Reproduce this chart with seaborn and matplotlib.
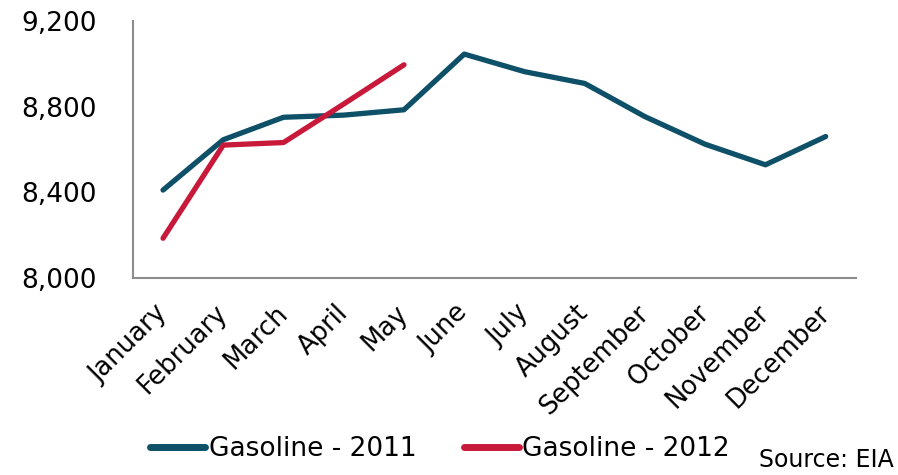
import pandas as pd
import numpy as np
import matplotlib
matplotlib.use("Agg")
import matplotlib.pyplot as plt
import matplotlib.transforms as mtrans
import seaborn as sns

# ---- data ----
months = ["January", "February", "March", "April", "May", "June",
          "July", "August", "September", "October", "November", "December"]
gas_2011 = [8410, 8645, 8750, 8760, 8785, 9045, 8963, 8908, 8753, 8624, 8528, 8660]
gas_2012 = [8185, 8620, 8632, 8812, 8995]
y_ticks = [8000, 8400, 8800, 9200]

BLUE = "#0D5068"
RED = "#C8193A"
GREY = "#8C8C8C"

df = pd.concat([
    pd.DataFrame({"Month": months, "Value": gas_2011, "Series": "Gasoline - 2011"}),
    pd.DataFrame({"Month": months[:len(gas_2012)], "Value": gas_2012, "Series": "Gasoline - 2012"}),
], ignore_index=True)

sns.set_style("white")
plt.rcParams["font.family"] = ["DejaVu Sans"]
plt.rcParams["text.color"] = "black"
plt.rcParams["xtick.labelcolor"] = "black"
plt.rcParams["ytick.labelcolor"] = "black"

fig = plt.figure(figsize=(8.98, 4.75), dpi=100)
ax = fig.add_axes([0.148, 0.415, 0.805, 0.541])

sns.lineplot(data=df, x="Month", y="Value", hue="Series", sort=False,
             palette={"Gasoline - 2011": BLUE, "Gasoline - 2012": RED},
             linewidth=3.8, ax=ax, legend=True)

# axes look: grey left/bottom spines, ticks between categories
for s in ["top", "right"]:
    ax.spines[s].set_visible(False)
for s in ["left", "bottom"]:
    ax.spines[s].set_color(GREY)
    ax.spines[s].set_linewidth(1.5)

ax.set_ylim(8000, 9200)
ax.set_yticks(y_ticks)
ax.set_yticklabels([f"{v:,}" for v in y_ticks], fontsize=19)
ax.set_xlim(-0.5, len(months) - 0.5)
ax.set_xticks(np.arange(-0.5, len(months)), minor=False)
ax.set_xticklabels([])
ax.set_xticks(np.arange(len(months)), minor=True)
ax.set_xticklabels(months, minor=True, rotation=45, ha="right",
                   rotation_mode="anchor", fontsize=18.5)
ax.tick_params(axis="x", which="major", direction="out", length=7, width=1.5, color=GREY)
ax.tick_params(axis="x", which="minor", length=0, pad=16)
ax.tick_params(axis="y", direction="out", length=7, width=1.5, color=GREY, pad=19)
ax.set_xlabel("")
ax.set_ylabel("")

# nudge month labels a little to the left so they end under the category centre
shift = mtrans.ScaledTranslation(-9 / 100, 0, fig.dpi_scale_trans)
for lbl in ax.get_xticklabels(minor=True):
    lbl.set_transform(lbl.get_transform() + shift)

leg = ax.legend(loc="center", bbox_to_anchor=(0.49, 0.055), bbox_transform=fig.transFigure,
                ncol=2, frameon=False, fontsize=19, handlelength=2.1,
                handletextpad=0.12, columnspacing=1.8)
for line in leg.get_lines():
    line.set_linewidth(5)

fig.text(0.995, 0.006, "Source: EIA", ha="right", va="bottom", fontsize=17)

fig.savefig("out.png", dpi=100)
